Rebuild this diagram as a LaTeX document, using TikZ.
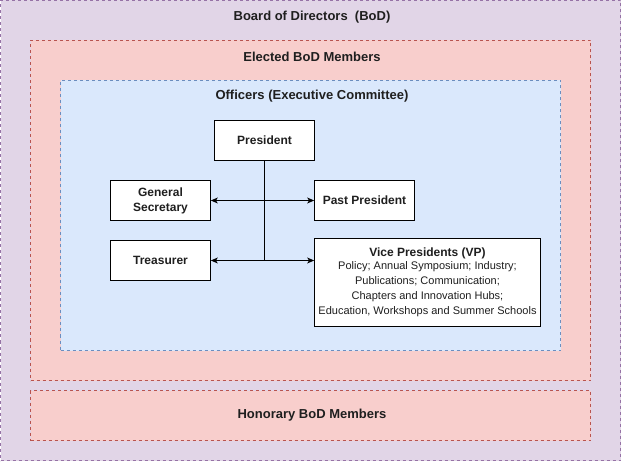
\documentclass[tikz,border=0pt]{standalone}
\usepackage{fontspec}
\setmainfont{Liberation Sans}
\usetikzlibrary{arrows.meta}
\definecolor{bodfill}{HTML}{E1D5E7}
\definecolor{bodline}{HTML}{9673A6}
\definecolor{elfill}{HTML}{F8CECC}
\definecolor{elline}{HTML}{B85450}
\definecolor{offfill}{HTML}{DAE8FC}
\definecolor{offline}{HTML}{6C8EBF}
\begin{document}
\begin{tikzpicture}[x=1pt,y=-1pt]
		\tikzset{group/.style={rectangle, line width=0.75pt, dash pattern=on 3pt off 3pt, inner sep=0pt},
			title/.style={font=\fontsize{13}{15}\selectfont\bfseries, text=black!88, inner sep=0pt},
			block/.style={rectangle, draw, fill=white, line width=0.75pt, align=center, inner sep=0pt, minimum width=100pt, minimum height=40pt, font=\fontsize{12}{15}\selectfont\bfseries, text=black!88},
			>={Stealth[length=7pt,width=6pt,inset=2pt]}};
		\useasboundingbox (0,0) rectangle (621,462);
		\node[group,draw=bodline,fill=bodfill,minimum width=620pt,minimum height=460pt] (BoD) at (310.5,230.5) {};
		\node[group,draw=elline, fill=elfill, minimum width=560pt,minimum height=340pt] (Elected) at (310.5,210.5) {};
		\node[group,draw=elline, fill=elfill, minimum width=560pt,minimum height= 50pt] (Honorary) at (310.5,415.5) {};
		\node[group,draw=offline,fill=offfill,minimum width=500pt,minimum height=270pt] (Officers) at (310.5,215.5) {};
		\node[title] (BoDLabel) at (312,17.5) {Board of Directors\ \ (BoD)};
		\node[title] (ElectedLabel) at (312,56.5) {Elected BoD Members};
		\node[title] (OfficersLabel) at (312,96.5) {Officers (Executive Committee)};
		\node[title] (HonoraryLabel) at (312,415.5) {Honorary BoD Members};
		\node[block] (President) at (264.5,140.5) {President};
		\node[block] (GenSec) at (160.5,200.5) {General\\Secretary};
		\node[block] (Past) at (364.5,200.5) {Past President};
		\node[block] (Treasurer) at (160.5,260.5) {Treasurer};
		\node[block,minimum width=226pt,minimum height=88pt,font=\fontsize{11}{15}\selectfont] (VP) at (427.5,282.5)
			{{\fontsize{12}{15}\selectfont\bfseries Vice Presidents (VP)}\\[-2pt]Policy; Annual Symposium; Industry;\\Publications; Communication;\\Chapters and Innovation Hubs;\\Education, Workshops and Summer Schools};
		\draw[line width=0.75pt,->] (President.south) |- (GenSec.east);
		\draw[line width=0.75pt,->] (President.south) |- (Past.west);
		\draw[line width=0.75pt,->] (President.south) |- (Treasurer.east);
		\draw[line width=0.75pt,->] (President.south) |- (VP.west |- Treasurer.east);
	\end{tikzpicture}
\end{document}
